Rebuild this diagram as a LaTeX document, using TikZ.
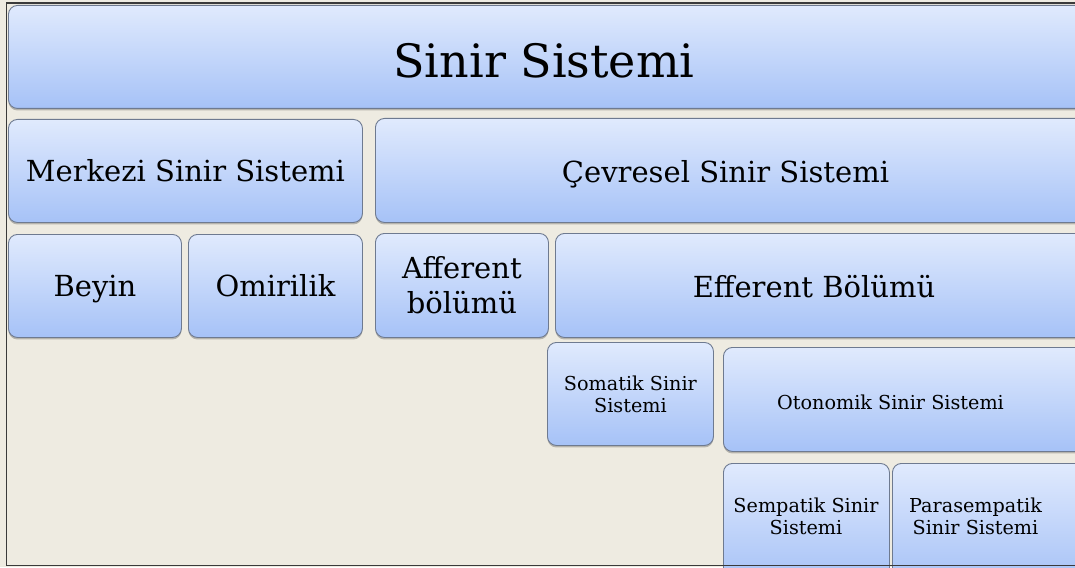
\documentclass[tikz,border=0pt]{standalone}
\usepackage{fontspec}
\setmainfont{DejaVu Serif}
\usetikzlibrary{shadows}
\definecolor{bg}{HTML}{EEEBE1}
\definecolor{btop}{HTML}{E0EAFD}
\definecolor{bbot}{HTML}{A6C2F7}
\definecolor{bdr}{HTML}{6E7A90}
\definecolor{frm}{HTML}{3A3A3A}
\tikzset{
  box/.style={draw=bdr, line width=0.9pt, rounded corners=9pt,
    top color=btop, bottom color=bbot, anchor=north west, inner sep=0pt,
    drop shadow={shadow xshift=0pt, shadow yshift=-2pt, opacity=0.35, fill=black!70}},
  big/.style={font=\fontsize{46}{52}\selectfont},
  mid/.style={font=\fontsize{29}{35}\selectfont, align=center},
  sml/.style={font=\fontsize{19.2}{22}\selectfont, align=center},
  txt/.style={inner sep=0pt},
}
\begin{document}
\begin{tikzpicture}[x=1pt, y=-1pt]
\fill[bg] (0,0) rectangle (1075,567);
\useasboundingbox (0,0) rectangle (1075,567);
\clip (0,0) rectangle (1075,567);
% level 0
\node[box, minimum width=1082pt, minimum height=103pt] (top) at (8,5) {};
\node[txt, big, anchor=base] (topT) at (544,78) {Sinir Sistemi};
% level 1
\node[box, mid, minimum width=354pt, minimum height=103pt] (mss) at (8,119) {Merkezi Sinir Sistemi};
\node[box, minimum width=715pt, minimum height=104pt] (cev) at (375,118) {};
\node[txt, mid, anchor=base] (cevT) at (725.5,182) {Çevresel Sinir Sistemi};
% level 2
\node[box, mid, text depth=0pt, minimum width=173pt, minimum height=103pt] (bey) at (8,234) {Beyin};
\node[box, mid, minimum width=174pt, minimum height=103pt] (omi) at (188,234) {Omirilik};
\node[box, mid, minimum width=173pt, minimum height=104pt] (aff) at (375,233) {Afferent\\bölümü};
\node[box, minimum width=535pt, minimum height=104pt] (eff) at (555,233) {};
\node[txt, mid, anchor=base] (effT) at (814,297) {Efferent Bölümü};
% level 3
\node[box, sml, minimum width=166pt, minimum height=103pt] (som) at (547,342) {Somatik Sinir\\Sistemi};
\node[box, minimum width=367pt, minimum height=104pt] (oto) at (723,347) {};
\node[txt, sml, anchor=base] (otoT) at (890.5,409) {Otonomik Sinir Sistemi};
% level 4
\node[box, minimum width=166pt, minimum height=120pt] (sem) at (723,463) {};
\node[txt, sml] (semT) at (806,516) {Sempatik Sinir\\Sistemi};
\node[box, minimum width=198pt, minimum height=120pt] (par) at (892,463) {};
\node[txt, sml] (parT) at (975.5,516) {Parasempatik\\Sinir Sistemi};
% frame
\draw[frm, line width=1.6pt] (1080,2.8) -- (6.5,2.8) -- (6.5,565.5) -- (1080,565.5);
\end{tikzpicture}
\end{document}
